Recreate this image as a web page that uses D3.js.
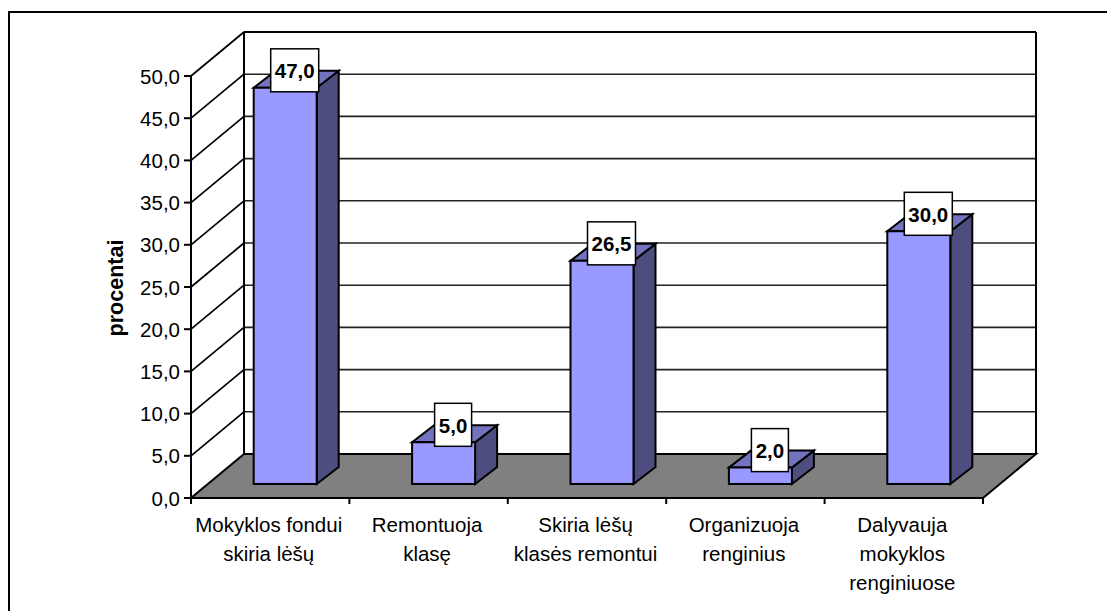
<!DOCTYPE html>
<html><head><meta charset="utf-8">
<script src="https://cdn.jsdelivr.net/npm/d3@7"></script>
<style>html,body{margin:0;padding:0;background:#fff}svg{display:block}text{font-family:"Liberation Sans",Arial,sans-serif;fill:#000}</style>
</head><body><svg id="c" width="1107" height="611"></svg>
<script>
const categories = [["Mokyklos fondui","skiria lėšų"],["Remontuoja","klasę"],["Skiria lėšų","klasės remontui"],["Organizuoja","renginius"],["Dalyvauja","mokyklos","renginiuose"]];
const values = [47.0,5.0,26.5,2.0,30.0];
const ticks = [0,5,10,15,20,25,30,35,40,45,50];
const fmt = v => v.toFixed(1).replace(".",",");
const svg = d3.select("#c");
const y = d3.scaleLinear().domain([0,50]).range([498,76]);
const x = d3.scaleBand().domain(d3.range(values.length)).range([191,983]);
const W = {dx:53,dy:-44}, B = {ox:15,oy:-14,dx:22,dy:-17,w:63};
const poly = (pts,fill)=>svg.append("path").attr("d","M"+pts.map(p=>p.join(",")).join("L")+"Z").attr("fill",fill).attr("stroke","#000").attr("stroke-width",2).attr("stroke-linejoin","miter");
const line = (a,b,c,d,w=2,col="#000")=>svg.append("line").attr("x1",a).attr("y1",b).attr("x2",c).attr("y2",d).attr("stroke",col).attr("stroke-width",w);

// outer frame: only the top and left edges fall inside the picture
line(8,12,1107,12,2);
line(9,11,9,611,2);

// floor
poly([[191,y(0)],[983,y(0)],[983+W.dx,y(0)+W.dy],[191+W.dx,y(0)+W.dy]],"#808080");
// back wall and left wall grid
ticks.forEach(t=>{
  if(t>0) line(191,y(t),191+W.dx,y(t)+W.dy,1.7);
  if(t>0) line(191+W.dx,y(t)+W.dy,983+W.dx,y(t)+W.dy,t===50?2:1.6,t===50?"#000":"#222");
  line(184,y(t),191,y(t));
  svg.append("text").attr("x",180).attr("y",y(t)+7.5).attr("text-anchor","end").attr("font-size",20.5).text(fmt(t));
});
line(191+W.dx,y(50)+W.dy,191+W.dx,y(0)+W.dy);
line(983+W.dx,y(50)+W.dy,983+W.dx,y(0)+W.dy);
line(191,y(50)-1,191,y(0)+1);
line(191,y(0),983,y(0));
d3.range(values.length+1).forEach(i=>{const px=i<values.length?x(i):x.range()[1];line(px,y(0),px,y(0)+6);});

// bars
values.forEach((v,i)=>{
  const l=x(i)+x.bandwidth()/2-B.w/2+B.ox,r=l+B.w,b=y(0)+B.oy,t=y(v)+B.oy+0.5;
  poly([[r,b],[r+B.dx,b+B.dy],[r+B.dx,t+B.dy],[r,t]],"#4d4d80");
  poly([[l,t],[r,t],[r+B.dx,t+B.dy],[l+B.dx,t+B.dy]],"#7373bf");
  poly([[l,t],[r,t],[r,b],[l,b]],"#9999ff");
});
// labels
values.forEach((v,i)=>{
  const cx=x(i)+x.bandwidth()/2+B.ox+B.dx/2-1.5, cy=y(v)+B.oy+B.dy/2-8.5;
  const w=v>=10?48:37;
  svg.append("rect").attr("x",cx-w/2).attr("y",cy-21.5).attr("width",w).attr("height",43).attr("fill","#fff").attr("stroke","#000").attr("stroke-width",1.5);
  svg.append("text").attr("x",cx).attr("y",cy+8).attr("text-anchor","middle").attr("font-size",20.5).attr("font-weight","bold").text(fmt(v));
});
// category labels
categories.forEach((c,i)=>{
  c.forEach((s,j)=>svg.append("text").attr("x",x(i)+x.bandwidth()/2-1.5).attr("y",531.5+j*29).attr("text-anchor","middle").attr("font-size",20.5).text(s));
});
svg.append("text").attr("transform","translate(122.5,288) rotate(-90)").attr("text-anchor","middle").attr("font-size",21.5).attr("font-weight","bold").text("procentai");
</script></body></html>
